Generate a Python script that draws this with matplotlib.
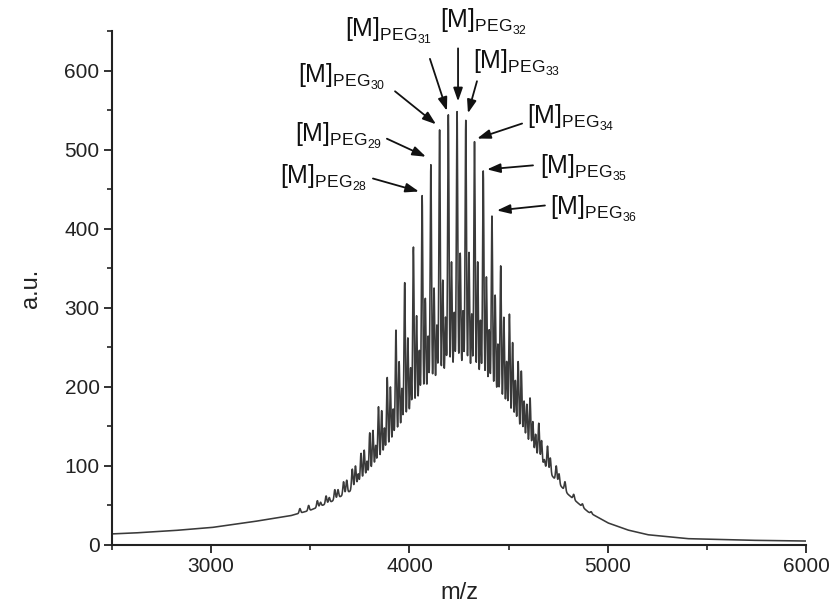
import numpy as np
import matplotlib
matplotlib.use("Agg")
import matplotlib.pyplot as plt
from matplotlib.ticker import MultipleLocator

plt.rcParams['font.family'] = ['Liberation Sans', 'DejaVu Sans']
plt.rcParams['mathtext.fontset'] = 'custom'
plt.rcParams['mathtext.rm'] = 'Liberation Sans'
plt.rcParams['mathtext.it'] = 'Liberation Sans:italic'
plt.rcParams['mathtext.bf'] = 'Liberation Sans:bold'

# ---- spectrum data -------------------------------------------------------
PEG_UNIT = 44.03          # ethylene oxide repeat unit (Da)
END_GROUP = 2831.0        # m/z offset of the [M]PEG_n series
K_SHIFT = 16.0            # K+ vs Na+ adduct spacing
THIRD_SHIFT = 30.0        # minor end-group series

# valley floor of the unresolved distribution (m/z, a.u.)
floor_mz = [2500, 2600, 2800, 3000, 3200, 3400, 3500, 3600, 3700, 3800,
            3900, 4000, 4100, 4200, 4250, 4300, 4400, 4500, 4600, 4700,
            4800, 4900, 5000, 5100, 5200, 5400, 5700, 6000]
floor_au = [14, 15, 18, 22, 29, 37, 44, 54, 68, 88,
            116, 148, 178, 198, 202, 198, 182, 156, 124, 93,
            64, 42, 28, 19, 13, 8, 6, 5]

# main series [M]PEG_n : degree of polymerisation and peak tops
main_n = list(range(14, 50))
main_top = [46, 50, 56, 62, 70, 80, 96, 116, 142, 175,
            212, 272, 332, 377, 442, 481, 525, 544, 548, 537,
            510, 473, 416, 353, 292, 232, 178, 140, 108, 85,
            68, 55, 45, 37, 30, 25]

# secondary adduct series (+16 Da)
sec_n = list(range(16, 48))
sec_top = [54, 60, 70, 82, 100, 120, 145, 170, 200, 232,
           262, 290, 312, 325, 335, 358, 369, 370, 358, 339,
           316, 288, 256, 220, 186, 154, 125, 100, 80, 64,
           52, 42]

# minor series (+30 Da)
third_n = list(range(20, 44))
third_top = [90, 106, 126, 148, 172, 198, 224, 246, 264, 278,
             288, 294, 296, 292, 284, 272, 254, 232, 208, 182,
             156, 132, 110, 90]

labelled_n = [28, 29, 30, 31, 32, 33, 34, 35, 36]

# ---- build trace -----------------------------------------------------------
mz = np.arange(2500.0, 6000.5, 1.0)
floor = np.interp(mz, floor_mz, floor_au)
signal = floor.copy()


def add_series(ns, tops, shift, sigma):
    global signal
    for n, top in zip(ns, tops):
        c = END_GROUP + PEG_UNIT * n + shift
        amp = max(top - np.interp(c, floor_mz, floor_au), 0)
        signal = signal + amp * np.exp(-0.5 * ((mz - c) / sigma) ** 2)


add_series(main_n, main_top, 0.0, 3.6)
add_series(sec_n, sec_top, K_SHIFT, 3.6)
add_series(third_n, third_top, THIRD_SHIFT, 3.3)

# ---- figure ---------------------------------------------------------------
fig = plt.figure(figsize=(8.31, 6.16), dpi=100)
ax = fig.add_axes([0.1348, 0.1153, 0.8352, 0.8344])
ax.plot(mz, signal, color='#3a3a3a', lw=1.15)

ax.set_xlim(2500, 6000)
ax.set_ylim(0, 650)
ax.xaxis.set_major_locator(MultipleLocator(1000))
ax.xaxis.set_minor_locator(MultipleLocator(500))
ax.yaxis.set_major_locator(MultipleLocator(100))
ax.yaxis.set_minor_locator(MultipleLocator(50))
ax.set_yticks(range(0, 601, 100))

for s in ['top', 'right']:
    ax.spines[s].set_visible(False)
for s in ['left', 'bottom']:
    ax.spines[s].set_linewidth(1.5)
    ax.spines[s].set_color('#222222')
ax.tick_params(which='major', direction='out', length=6, width=1.3,
               labelsize=15, colors='#222222', pad=3)
ax.tick_params(which='minor', direction='out', length=3.5, width=1.2,
               colors='#222222')

ax.set_xlabel('m/z', fontsize=17, color='#222222', labelpad=4)
ax.set_ylabel('a.u.', fontsize=17, color='#222222', labelpad=16)

# ---- annotations ----------------------------------------------------------
# arrow tip offset from the peak top (m/z, a.u.), tail and text offsets (pixels)
tip_shift = [(-16, 5), (-25, 10), (-18, 7), (-7, 5), (5, 13),
             (11, 9), (13, 4), (19, 2), (25, 7)]
tail_px = [(-46, 13), (-39, 18), (-41, 33), (-17, 52), (0, 53),
           (9, 32), (45, 15), (46, 4), (48, 5)]
text_px = [(-139, 8), (-131, 15), (-138, 41), (-102, 74), (-18, 74),
           (5, 44), (50, 15), (53, -4), (53, -4)]

top_of = dict(zip(main_n, main_top))
for n, (dm, dv), (tx, ty), (lx, ly) in zip(labelled_n, tip_shift, tail_px, text_px):
    c = END_GROUP + PEG_UNIT * n
    tip = (c + dm, top_of[n] + dv)
    ax.annotate('', xy=tip, xytext=(tx, ty), textcoords='offset pixels',
                xycoords='data',
                arrowprops=dict(arrowstyle='-|>,head_length=0.8,head_width=0.28',
                                lw=1.3, color='#111111', shrinkA=0, shrinkB=0))
    ax.annotate(r'$\mathrm{[M]}_{\mathrm{PEG}_{%d}}$' % n, xy=tip,
                xytext=(lx, ly), textcoords='offset pixels',
                ha='left', va='baseline', fontsize=18, color='#111111')

fig.savefig('out.png', dpi=100)
